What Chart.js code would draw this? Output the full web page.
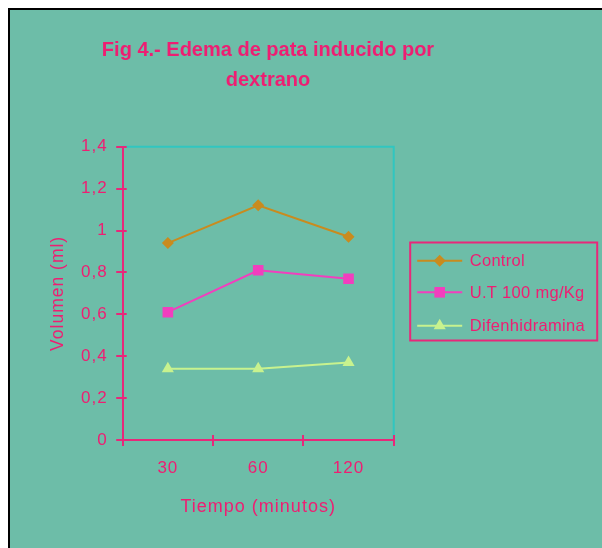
<!DOCTYPE html>
<html>
<head>
<meta charset="utf-8">
<script src="https://cdn.jsdelivr.net/npm/chart.js@4/dist/chart.umd.min.js"></script>
<style>
  html, body { margin: 0; padding: 0; background: #ffffff; width: 602px; height: 548px; overflow: hidden; }
  #frame { position: absolute; left: 8px; top: 8px; width: 592px; height: 538px;
           border-left: 2px solid #000; border-top: 2px solid #000; background: #6DBDA8; }
  #frame canvas { position: absolute; left: 0; top: 0; }
</style>
</head>
<body>
<div id="frame"><canvas id="chart" width="592" height="538"></canvas></div>
<script>
// Paw edema volume (ml) over time for each treatment group
const categories = ['30', '60', '120'];
const control = [0.94, 1.12, 0.97];
const ut100 = [0.61, 0.81, 0.77];
const difenhidramina = [0.34, 0.34, 0.37];
const seriesNames = ['Control', 'U.T 100 mg/Kg', 'Difenhidramina'];
const yTicks = [0, 0.2, 0.4, 0.6, 0.8, 1, 1.2, 1.4];

const PINK = '#EE1E72';
const AXIS = '#E8287A';
const CYAN = '#30C6C0';
const FONT = "'Liberation Sans', Arial, sans-serif";

// Chart title in plain lettering; axis text (drawn after the datasets) slightly spaced
const spacing = {
  id: 'spacing',
  beforeLayout(chart) { chart.ctx.letterSpacing = '1px'; },
  beforeDraw(chart) { chart.ctx.letterSpacing = '0px'; },
  beforeDatasetsDraw(chart) { chart.ctx.letterSpacing = '1px'; }
};

// Tick marks that cross the axis lines, plus the cyan frame on top/right
const axisDecor = {
  id: 'axisDecor',
  beforeDatasetsDraw(chart) {
    const { ctx, chartArea: a, scales: { x, y } } = chart;
    ctx.save();
    ctx.strokeStyle = CYAN;
    ctx.lineWidth = 2;
    ctx.beginPath();
    ctx.moveTo(a.left, a.top);
    ctx.lineTo(a.right, a.top);
    ctx.lineTo(a.right, a.bottom);
    ctx.stroke();
    ctx.strokeStyle = AXIS;
    ctx.lineWidth = 2;
    ctx.beginPath();
    y.ticks.forEach((t, i) => {
      const py = Math.round(y.getPixelForTick(i));
      ctx.moveTo(a.left - 6.5, py);
      ctx.lineTo(a.left + 4, py);
    });
    for (let i = 0; i <= categories.length; i++) {
      const px = Math.round(x.getPixelForValue(i - 0.5));
      ctx.moveTo(px, a.bottom - 5);
      ctx.lineTo(px, a.bottom + 6);
    }
    ctx.stroke();
    ctx.restore();
  }
};

// Framed legend to the right of the plot
const boxedLegend = {
  id: 'boxedLegend',
  afterDraw(chart) {
    const { ctx, chartArea: a } = chart;
    const left = a.right + 16.5, top = 232.5, w = 187, h = 98;
    ctx.save();
    ctx.strokeStyle = AXIS;
    ctx.lineWidth = 2;
    ctx.strokeRect(left, top, w, h);
    const rows = [250.7, 282.3, 315.7];
    chart.data.datasets.forEach((ds, i) => {
      const yy = rows[i];
      ctx.strokeStyle = ds.borderColor;
      ctx.lineWidth = 2;
      ctx.beginPath();
      ctx.moveTo(left + 7, yy);
      ctx.lineTo(left + 52, yy);
      ctx.stroke();
      ctx.fillStyle = ds.pointBackgroundColor;
      Chart.helpers.drawPoint(ctx, {
        pointStyle: ds.pointStyle, radius: ds.pointRadius, rotation: 0, borderWidth: 0
      }, left + 29.5, yy);
      ctx.fillStyle = PINK;
      ctx.font = '16.5px ' + FONT;
      ctx.letterSpacing = '0.3px';
      ctx.textBaseline = 'middle';
      ctx.textAlign = 'left';
      ctx.fillText(ds.label, left + 59.5, yy + 1);
    });
    ctx.restore();
  }
};

const mkSet = (label, data, color, style, r) => ({
  label, data,
  borderColor: color, backgroundColor: color,
  pointBackgroundColor: color, pointBorderColor: color,
  pointStyle: style, pointRadius: r, pointHoverRadius: r, pointBorderWidth: 0,
  borderWidth: 2, tension: 0, fill: false
});

new Chart(document.getElementById('chart'), {
  type: 'line',
  data: {
    labels: categories,
    datasets: [
      mkSet(seriesNames[0], control, '#C98B1E', 'rectRot', 6),
      mkSet(seriesNames[1], ut100, '#F23EBE', 'rect', 7.5),
      mkSet(seriesNames[2], difenhidramina, '#C8F28E', 'triangle', 7)
    ]
  },
  options: {
    responsive: false,
    animation: false,
    devicePixelRatio: 1,
    layout: { padding: { left: 0, right: 76, top: 0, bottom: 26.5 } },
    plugins: {
      legend: { display: false },
      tooltip: { enabled: false },
      title: {
        display: true,
        text: ['Fig 4.- Edema de pata inducido por', 'dextrano'],
        color: PINK,
        font: { family: FONT, size: 20, weight: 'bold', lineHeight: 1.5 },
        padding: { top: 25, bottom: 51.7 }
      }
    },
    scales: {
      x: {
        offset: true,
        grid: { display: false, drawTicks: false, offset: true, z: 1 },
        border: { display: true, color: AXIS, width: 2, z: 1 },
        ticks: { color: PINK, padding: 18, z: 1, font: { family: FONT, size: 17 } },
        title: { display: true, text: 'Tiempo (minutos)', color: PINK,
                 font: { family: FONT, size: 18 }, padding: { top: 4, bottom: 4 } },
        afterFit(s) { s.height = 81.5; }
      },
      y: {
        min: 0, max: 1.4,
        afterBuildTicks(s) { s.ticks = yTicks.map(v => ({ value: v })); },
        grid: { display: false, drawTicks: false, z: 1 },
        border: { display: true, color: AXIS, width: 2, z: 1 },
        ticks: {
          color: PINK, padding: 15, z: 1, font: { family: FONT, size: 17 },
          callback: v => String(Math.round(v * 10) / 10).replace('.', ',')
        },
        title: { display: true, text: 'Volumen (ml)', color: PINK,
                 font: { family: FONT, size: 17.5 }, padding: { top: 37.5, bottom: 4 } },
        afterFit(s) { s.width = 112.7; }
      },
      // empty right-hand band that holds the legend area
      legendBand: {
        type: 'linear', axis: 'y', position: 'right', display: true,
        grid: { display: false, drawTicks: false },
        border: { display: false },
        ticks: { display: false },
        afterFit(s) { s.width = 132.3; }
      }
    }
  },
  plugins: [spacing, axisDecor, boxedLegend]
});
</script>
</body>
</html>
